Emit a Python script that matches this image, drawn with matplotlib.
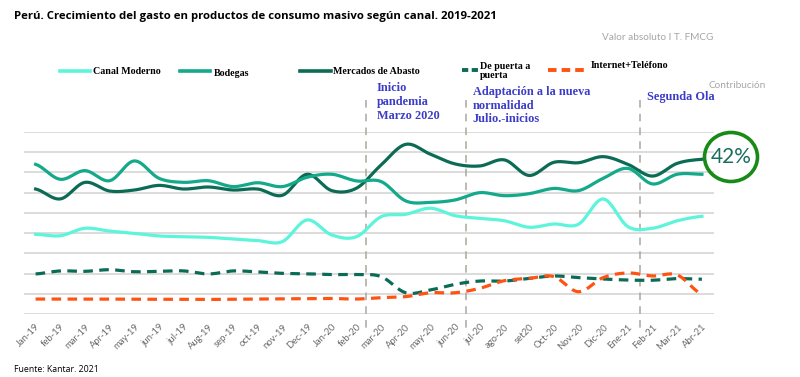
import numpy as np
import matplotlib
matplotlib.use("Agg")
import matplotlib.pyplot as plt
from matplotlib.lines import Line2D
from matplotlib.patches import Ellipse

months = ["Jan-19", "feb-19", "mar-19", "Apr-19", "may-19", "jun-19", "jul-19",
          "Aug-19", "sep-19", "oct-19", "nov-19", "Dec-19", "Jan-20", "feb-20",
          "mar-20", "Apr-20", "may-20", "jun-20", "jul-20", "ago-20", "set20",
          "Oct-20", "Nov-20", "Dic-20", "Ene-21", "Feb-21", "Mar-21", "Abr-21"]

canal_moderno = [3.94, 3.87, 4.24, 4.10, 3.99, 3.86, 3.82, 3.79, 3.71, 3.63, 3.58, 4.65, 3.91, 3.82,
                 4.81, 4.93, 5.23, 4.86, 4.73, 4.61, 4.29, 4.45, 4.44, 5.69, 4.32, 4.24, 4.61, 4.83]
bodegas = [7.40, 6.66, 7.09, 6.59, 7.57, 6.71, 6.51, 6.59, 6.30, 6.49, 6.30, 6.76, 6.91, 6.58,
           6.55, 5.59, 5.52, 5.64, 6.00, 5.85, 5.95, 6.21, 6.10, 6.71, 7.20, 6.43, 6.91, 6.91]
mercados = [6.18, 5.69, 6.51, 6.08, 6.13, 6.36, 6.18, 6.28, 6.13, 6.18, 5.87, 6.91, 6.10, 6.22,
            7.37, 8.39, 7.90, 7.42, 7.32, 7.62, 6.85, 7.50, 7.48, 7.78, 7.40, 6.82, 7.45, 7.65]
puerta = [1.98, 2.13, 2.11, 2.19, 2.09, 2.11, 2.13, 1.98, 2.13, 2.08, 2.01, 1.99, 1.95, 1.95,
          1.85, 1.05, 1.19, 1.47, 1.63, 1.63, 1.76, 1.88, 1.80, 1.73, 1.68, 1.67, 1.75, 1.72]
internet = [0.74, 0.74, 0.74, 0.74, 0.73, 0.73, 0.73, 0.72, 0.73, 0.74, 0.75, 0.76, 0.77, 0.74,
            0.81, 0.86, 1.05, 1.05, 1.27, 1.65, 1.76, 1.85, 1.10, 1.80, 2.03, 1.88, 1.93, 0.98]

events = [13.38, 17.45, 24.48]
event_labels = ["Inicio\npandemia\nMarzo 2020", "Adaptación a la nueva\nnormalidad\nJulio.-inicios", "Segunda Ola"]

c_moderno = "#5cf5dc"
c_bodegas = "#14a98a"
c_mercados = "#0c6b55"
c_orange = "#ff5312"
c_blue = "#3c3cc8"


def smooth(y, n=12):
    # catmull-rom curve through the points, like excel's smoothed lines
    y = np.asarray(y, float)
    p = np.concatenate([[y[0]], y, [y[-1]]])
    xs, ys = [], []
    t = np.linspace(0, 1, n, endpoint=False)
    for i in range(len(y) - 1):
        p0, p1, p2, p3 = p[i], p[i + 1], p[i + 2], p[i + 3]
        seg = 0.5 * ((2 * p1) + (-p0 + p2) * t + (2 * p0 - 5 * p1 + 4 * p2 - p3) * t ** 2
                     + (-p0 + 3 * p1 - 3 * p2 + p3) * t ** 3)
        xs.append(i + t)
        ys.append(seg)
    xs.append([len(y) - 1])
    ys.append([y[-1]])
    return np.concatenate(xs), np.concatenate(ys)


fig = plt.figure(figsize=(8, 3.77), dpi=100)
ax = fig.add_axes([0.03, 0.1671, 0.8625, 0.4828])
ax.set_xlim(-0.47, 27.49)
ax.set_ylim(0, 9)
for s in ax.spines.values():
    s.set_visible(False)
ax.set_yticks(range(0, 10))
ax.set_yticklabels([])
ax.tick_params(axis="y", length=0)
ax.grid(axis="y", color="#d9d9d9", linewidth=1.3)
ax.set_axisbelow(True)

x = np.arange(len(months))
ax.set_xticks(x)
ax.set_xticklabels(months, rotation=45, ha="right", va="top", rotation_mode="anchor",
                   fontsize=6.8, color="#6b6b6b", family="Lato")
ax.tick_params(axis="x", length=0, pad=6)

for xv in events:
    ax.plot([xv, xv], [10.6, -0.9], color="#a8a89e", lw=1.1, ls=(0, (5, 4)), clip_on=False, zorder=1)

sx, sy = smooth(mercados)
ax.plot(sx, sy, color=c_mercados, lw=2.3, zorder=3)
sx, sy = smooth(bodegas)
ax.plot(sx, sy, color=c_bodegas, lw=2.3, zorder=3)
sx, sy = smooth(canal_moderno)
ax.plot(sx, sy, color=c_moderno, lw=2.3, zorder=3)
sx, sy = smooth(puerta)
ax.plot(sx, sy, color=c_mercados, lw=2.3, ls=(0, (3, 2)), zorder=3)
sx, sy = smooth(internet)
ax.plot(sx, sy, color=c_orange, lw=2.3, ls=(0, (3, 2)), zorder=3)

# event annotations
ann_pos = [(0.45, 11.47), (0.27, 11.28), (0.28, 11.03)]
for xv, (dx, ty), label in zip(events, ann_pos, event_labels):
    ax.text(xv + dx, ty, label, color=c_blue, fontsize=8.8, fontweight="bold",
            family="Liberation Serif", va="top", ha="left", linespacing=1.2)

# title and notes
fig.text(14 / 800, 1 - 17 / 377, "Perú. Crecimiento del gasto en productos de consumo masivo según canal. 2019-2021",
         fontsize=8.2, fontweight="bold", family="Open Sans", va="center", ha="left")
fig.text(713 / 800, 1 - 37 / 377, "Valor absoluto I T. FMCG", fontsize=7.2, color="#a6a6a6",
         family="Lato", va="center", ha="right")
fig.text(766 / 800, 1 - 86 / 377, "Contribución", fontsize=7.2, color="#a6a6a6",
         family="Lato", va="center", ha="right")
fig.text(14 / 800, 1 - 369 / 377, "Fuente: Kantar. 2021", fontsize=6.3, family="Open Sans",
         va="center", ha="left")

# legend across the top
legend_items = [
    (60, 90, c_moderno, "-", "Canal Moderno", 93, 71),
    (180, 210, c_bodegas, "-", "Bodegas", 214, 73),
    (300, 331, c_mercados, "-", "Mercados de Abasto", 333, 71),
    (462, 478, c_mercados, "--", "De puerta a\npuerta", 480, 71),
    (548, 584, c_orange, "--", "Internet+Teléfono", 591, 66),
]
for x0, x1, col, style, label, tx, ty in legend_items:
    ly = 1 - 71 / 377 if style == "-" else 1 - 70 / 377
    dash = (0, (1.6, 0.9)) if col == c_mercados else (0, (2.2, 1.3))
    fig.add_artist(Line2D([x0 / 800, x1 / 800], [ly, ly], color=col, lw=2.6 if style == "-" else 2.8,
                          ls="-" if style == "-" else dash))
    fig.text(tx / 800, 1 - ty / 377, label, fontsize=7.2, fontweight="bold", family="Liberation Serif",
             va="center", ha="left", linespacing=1.1)

# highlighted final value
fig.add_artist(Ellipse((731 / 800, 1 - 157 / 377), 53 / 800, 49 / 377, fill=False,
                       edgecolor="#178a17", lw=2.6))
fig.text(731 / 800, 1 - 157 / 377, "42%", fontsize=15, color="#1b6e5e", family="Lato",
         va="center", ha="center")

fig.savefig("out.png", dpi=100)
